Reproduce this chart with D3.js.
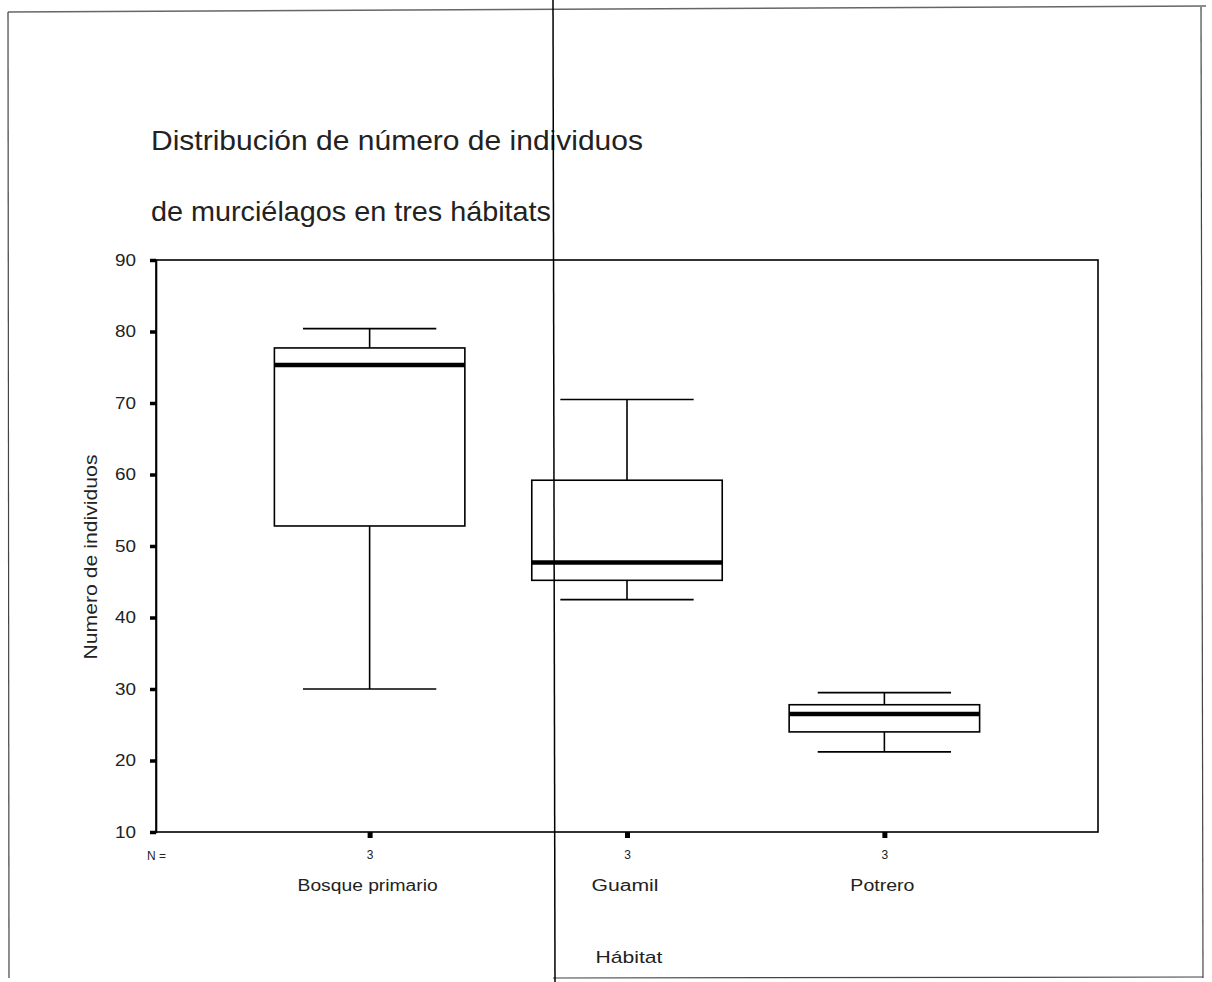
<!DOCTYPE html>
<html>
<head>
<meta charset="utf-8">
<script src="https://cdn.jsdelivr.net/npm/d3@7"></script>
<style>
  html, body { margin: 0; padding: 0; background: #fff; }
  svg { display: block; }
  text { font-family: "Liberation Sans", Arial, sans-serif; fill: #222; }
</style>
</head>
<body>
<svg id="chart" width="1212" height="982"></svg>
<script>
// Habitat categories and number of individuals in each sample
const habitats = ["Bosque primario", "Guamil", "Potrero"];
const counts = [3, 3, 3];
// Five-number summaries per habitat
const minimum = [30, 42.5, 21.2];
const lowerQuartile = [52.8, 45.2, 24.0];
const median = [75.3, 47.7, 26.5];
const upperQuartile = [77.7, 59.2, 27.8];
const maximum = [80.4, 70.5, 29.5];
const yTicks = [10, 20, 30, 40, 50, 60, 70, 80, 90];

const titleLines = ["Distribución de número de individuos", "de murciélagos en tres hábitats"];

const svg = d3.select("#chart");

// Page frame
const page = svg.append("g").attr("fill", "none");
page.append("line").attr("x1", 8).attr("y1", 12).attr("x2", 1206).attr("y2", 6).attr("stroke-width", 1.6).attr("stroke", "#666");
page.append("line").attr("x1", 8).attr("y1", 12).attr("x2", 9).attr("y2", 978).attr("stroke-width", 1.2).attr("stroke", "#444");
page.append("line").attr("x1", 1201).attr("y1", 7).attr("x2", 1203).attr("y2", 978).attr("stroke-width", 1.2).attr("stroke", "#444");
page.append("line").attr("x1", 553).attr("y1", 978).attr("x2", 1203).attr("y2", 977).attr("stroke-width", 1.2).attr("stroke", "#444");

const plot = { left: 156, right: 1098, top: 260, bottom: 832 };

const y = d3.scaleLinear().domain([10, 90]).range([plot.bottom, plot.top]);
const x = d3.scalePoint().domain(habitats).range([plot.left, plot.right]).padding(0.83);
const boxW = x.step() * 0.74;
const capW = boxW * 0.7;

// Title, two lines
const titleWidths = [492, 400];
svg.append("g").selectAll("text").data(titleLines).join("text")
  .attr("x", 151)
  .attr("y", (d, i) => 150 + i * 71)
  .attr("font-size", 28)
  .attr("fill", "#333")
  .attr("textLength", (d, i) => titleWidths[i])
  .attr("lengthAdjust", "spacingAndGlyphs")
  .text(d => d);

// Plot frame
svg.append("rect")
  .attr("x", plot.left).attr("y", plot.top)
  .attr("width", plot.right - plot.left).attr("height", plot.bottom - plot.top)
  .attr("fill", "none").attr("stroke", "#000").attr("stroke-width", 1.6);

// Y axis
const yAxis = svg.append("g")
  .attr("transform", `translate(${plot.left},0)`)
  .call(d3.axisLeft(y).tickValues(yTicks).tickSize(6).tickPadding(14).tickFormat(d3.format("d")));
yAxis.select(".domain").attr("stroke-width", 1.6);
yAxis.selectAll(".tick line").attr("stroke-width", 3.5);
yAxis.selectAll(".tick text")
  .attr("font-size", 16)
  .attr("font-family", "Liberation Sans, Arial, sans-serif")
  .attr("fill", "#222")
  .attr("textLength", 21)
  .attr("lengthAdjust", "spacingAndGlyphs");

// X axis ticks (short and heavy) with sample sizes
const xAxis = svg.append("g")
  .attr("transform", `translate(0,${plot.bottom})`)
  .call(d3.axisBottom(x).tickSize(6).tickPadding(12).tickFormat((d, i) => counts[i]));
xAxis.select(".domain").remove();
xAxis.selectAll(".tick line").attr("stroke-width", 5);
xAxis.selectAll(".tick text").attr("font-size", 12).attr("font-family", "Liberation Sans, Arial, sans-serif").attr("fill", "#222");

svg.append("text").attr("x", 147).attr("y", 860).attr("font-size", 12).text("N =");

// Category names
const labelWidths = [140, 67, 64];
svg.append("g").selectAll("text").data(habitats).join("text")
  .attr("x", d => x(d) - 2)
  .attr("y", 891)
  .attr("text-anchor", "middle")
  .attr("font-size", 16)
  .attr("textLength", (d, i) => labelWidths[i])
  .attr("lengthAdjust", "spacingAndGlyphs")
  .text(d => d);

// Axis titles
svg.append("text")
  .attr("x", 629).attr("y", 963)
  .attr("text-anchor", "middle")
  .attr("font-size", 17)
  .attr("textLength", 67)
  .attr("lengthAdjust", "spacingAndGlyphs")
  .text("Hábitat");

svg.append("text")
  .attr("transform", `translate(97,557) rotate(-90)`)
  .attr("text-anchor", "middle")
  .attr("font-size", 18)
  .attr("textLength", 205)
  .attr("lengthAdjust", "spacingAndGlyphs")
  .text("Numero de individuos");

// Boxes
const boxes = svg.append("g").attr("stroke", "#000").attr("fill", "none");
habitats.forEach((h, i) => {
  const cx = x(h);
  const g = boxes.append("g");
  // whiskers
  g.append("line").attr("x1", cx).attr("x2", cx).attr("y1", y(maximum[i])).attr("y2", y(upperQuartile[i])).attr("stroke-width", 1.6);
  g.append("line").attr("x1", cx).attr("x2", cx).attr("y1", y(lowerQuartile[i])).attr("y2", y(minimum[i])).attr("stroke-width", 1.6);
  g.append("line").attr("x1", cx - capW / 2).attr("x2", cx + capW / 2).attr("y1", y(maximum[i])).attr("y2", y(maximum[i])).attr("stroke-width", 1.6);
  g.append("line").attr("x1", cx - capW / 2).attr("x2", cx + capW / 2).attr("y1", y(minimum[i])).attr("y2", y(minimum[i])).attr("stroke-width", 1.6);
  // box
  g.append("rect")
    .attr("x", cx - boxW / 2).attr("width", boxW)
    .attr("y", y(upperQuartile[i])).attr("height", y(lowerQuartile[i]) - y(upperQuartile[i]))
    .attr("fill", "#fff").attr("stroke-width", 1.6);
  // median
  g.append("line").attr("x1", cx - boxW / 2).attr("x2", cx + boxW / 2).attr("y1", y(median[i])).attr("y2", y(median[i])).attr("stroke-width", 4.5);
});

// Vertical fold line across the whole sheet
svg.append("line").attr("x1", 553).attr("y1", 0).attr("x2", 555).attr("y2", 982)
  .attr("stroke", "#000").attr("stroke-width", 1.5);
</script>
</body>
</html>
